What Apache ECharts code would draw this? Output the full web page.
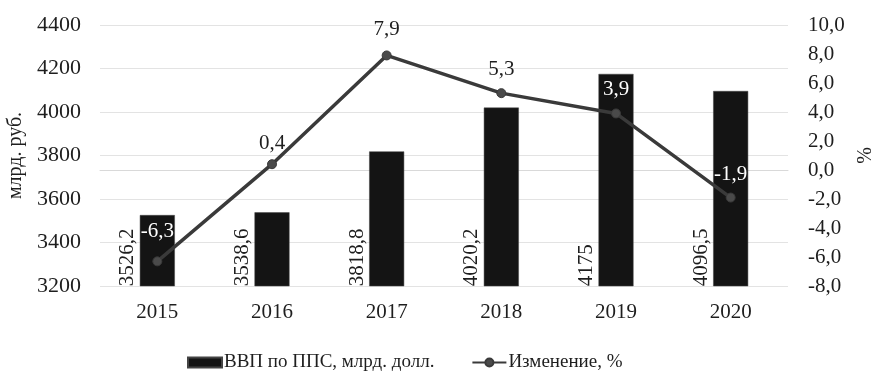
<!DOCTYPE html>
<html>
<head>
<meta charset="utf-8">
<script src="https://cdn.jsdelivr.net/npm/echarts@6/dist/echarts.min.js"></script>
<style>
  html, body { margin: 0; padding: 0; background: #fff; }
  #chart { width: 873px; height: 373px; }
</style>
</head>
<body>
<div id="chart"></div>
<script>
// GDP at PPP by year and its annual change
const years = ['2015', '2016', '2017', '2018', '2019', '2020'];
const gdpValues = [3526.2, 3538.6, 3818.8, 4020.2, 4175, 4096.5];
const changeValues = [-6.3, 0.4, 7.9, 5.3, 3.9, -1.9];
const leftTicks = { min: 3200, max: 4400, interval: 200 };
const rightTicks = { min: -8, max: 10, interval: 2 };
const gdpName = 'ВВП по ППС, млрд. долл.';
const changeName = 'Изменение, %';
const leftAxisName = 'млрд. руб.';
const rightAxisName = '%';

const FONT = "'Liberation Serif', 'Times New Roman', serif";
const TEXT = '#1e1e1e';
const fmt = (v, d) => (d == null ? String(v) : v.toFixed(d)).replace('.', ',');

// change labels that fall on top of a dark bar are drawn in white
const whiteLabelYears = new Set(['2015', '2019', '2020']);
// gap between a change marker and its label
const labelGap = { '2015': 14, '2016': 5, '2017': 10 };

const chart = echarts.init(document.getElementById('chart'), null, { renderer: 'canvas' });

chart.setOption({
  animation: false,
  backgroundColor: '#fff',
  textStyle: { fontFamily: FONT, color: TEXT },
  grid: { left: 100, right: 85, top: 25, bottom: 87, containLabel: false, outerBoundsMode: 'none' },
  legend: {
    left: 187, bottom: 1, padding: 0,
    itemGap: 37, itemWidth: 34, itemHeight: 10,
    textStyle: { fontFamily: FONT, fontSize: 19, color: TEXT, padding: [0, 0, 0, -3] },
    data: [
      { name: gdpName, icon: 'rect' },
      { name: changeName }
    ]
  },
  xAxis: {
    type: 'category',
    data: years,
    axisLine: { show: true, lineStyle: { color: '#d9d9d9', width: 1 } },
    axisTick: { show: false },
    axisLabel: { fontFamily: FONT, fontSize: 21, color: TEXT, margin: 16 }
  },
  yAxis: [
    {
      type: 'value',
      min: leftTicks.min, max: leftTicks.max, interval: leftTicks.interval,
      name: leftAxisName, nameLocation: 'middle', nameRotate: 90, nameGap: 69,
      nameTextStyle: { fontFamily: FONT, fontSize: 20, color: TEXT },
      axisLine: { show: false }, axisTick: { show: false },
      axisLabel: { fontFamily: FONT, fontSize: 22, color: TEXT, margin: 19, formatter: v => String(v) },
      splitLine: { lineStyle: { color: '#e3e3e3', width: 1 } }
    },
    {
      type: 'value',
      min: rightTicks.min, max: rightTicks.max, interval: rightTicks.interval,
      name: rightAxisName, nameLocation: 'middle', nameRotate: 90, nameGap: 65,
      nameTextStyle: { fontFamily: FONT, fontSize: 20, color: TEXT },
      axisLine: { show: false }, axisTick: { show: false },
      axisLabel: { fontFamily: FONT, fontSize: 21, color: TEXT, margin: 20, formatter: v => fmt(v, 1) },
      splitLine: { show: false }
    }
  ],
  series: [
    {
      name: gdpName,
      type: 'bar',
      yAxisIndex: 0,
      barWidth: 35,
      data: gdpValues,
      itemStyle: { color: '#141414', borderColor: '#444', borderWidth: 0.5 },
      label: {
        show: true,
        position: [-12, '100%'],
        rotate: 90,
        align: 'left',
        verticalAlign: 'middle',
        fontFamily: FONT, fontSize: 21, color: TEXT,
        formatter: p => fmt(p.value)
      }
    },
    {
      name: changeName,
      type: 'line',
      yAxisIndex: 1,
      symbol: 'circle',
      symbolSize: 9,
      lineStyle: { color: '#3a3a3a', width: 3.5 },
      itemStyle: { color: '#4a4a4a', borderColor: '#3a3a3a', borderWidth: 1 },
      data: changeValues.map((v, i) => ({
        value: v,
        label: {
          color: whiteLabelYears.has(years[i]) ? '#ffffff' : TEXT,
          distance: labelGap[years[i]] != null ? labelGap[years[i]] : 8
        }
      })),
      label: {
        show: true,
        position: 'top',
        fontFamily: FONT, fontSize: 21,
        formatter: p => fmt(p.value)
      },
      z: 5
    }
  ]
});
</script>
</body>
</html>
